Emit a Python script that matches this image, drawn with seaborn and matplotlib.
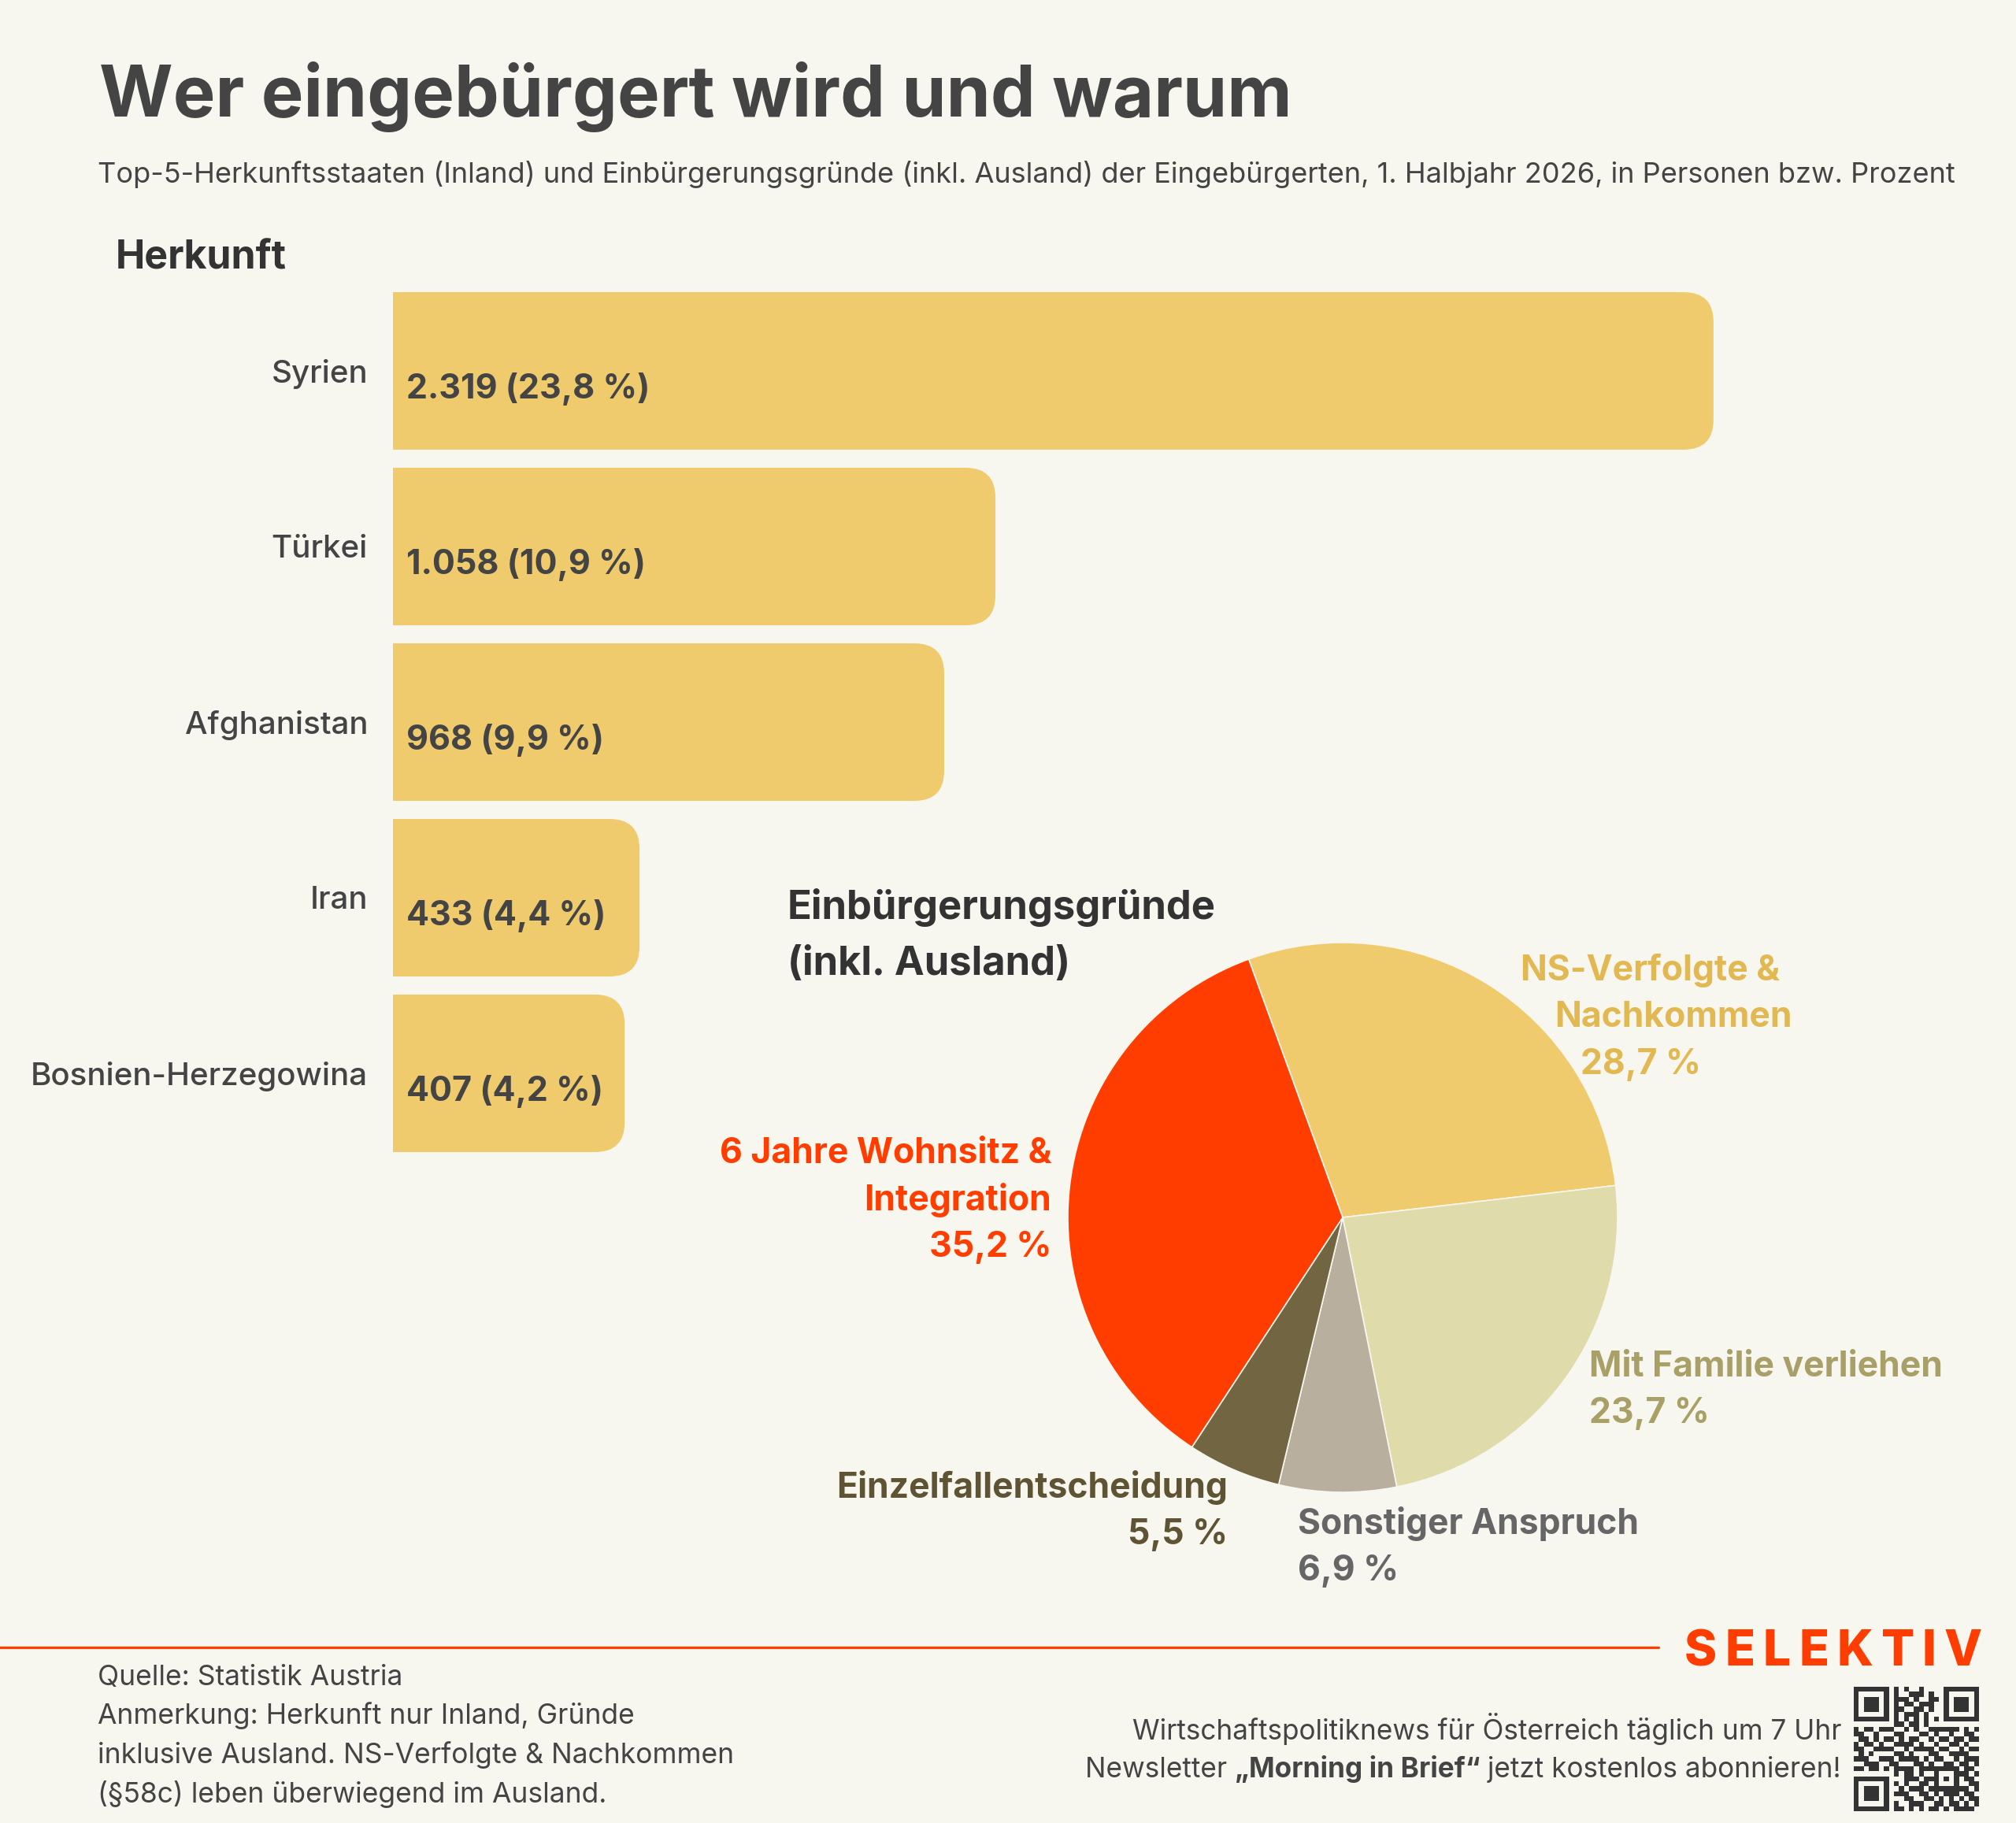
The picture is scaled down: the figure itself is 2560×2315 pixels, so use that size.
import numpy as np
import pandas as pd
import matplotlib
matplotlib.use("Agg")
import matplotlib.pyplot as plt
import matplotlib.transforms as mtrans
from matplotlib.text import OffsetFrom
import seaborn as sns
from matplotlib.patches import FancyBboxPatch
from matplotlib.lines import Line2D

W, H = 2560, 2315
BG = "#F8F7EF"
DARK = "#444444"
GOLD = "#EFCB6D"
RED = "#FF3D00"
FONT = "Inter"

# Herkunft (Inland), 1. Halbjahr 2026
countries = ["Syrien", "Türkei", "Afghanistan", "Iran", "Bosnien-Herzegowina"]
persons = [2319, 1058, 968, 433, 407]
shares = [23.8, 10.9, 9.9, 4.4, 4.2]

# Einbürgerungsgründe (inkl. Ausland), in Prozent
reasons = [["NS-Verfolgte &", "Nachkommen"], ["Mit Familie verliehen"], ["Sonstiger Anspruch"],
           ["Einzelfallentscheidung"], ["6 Jahre Wohnsitz &", "Integration"]]
reason_pct = [28.7, 23.7, 6.9, 5.5, 35.2]
reason_colors = ["#EFCB6D", "#E0DBAB", "#B8AF9E", "#726642", "#FF3D00"]
label_colors = ["#E2B853", "#A9A067", "#666666", "#5E5434", "#FF3D00"]

footnote = ["Quelle: Statistik Austria",
            "Anmerkung: Herkunft nur Inland, Gründe",
            "inklusive Ausland. NS-Verfolgte & Nachkommen",
            "(§58c) leben überwiegend im Ausland."]

# QR-Code Muster (nur Deko)
qr_rows = [
    "1111111010100100001111111",
    "1000001010011101001000001",
    "1011101011101001101011101",
    "1011101010110111001011101",
    "1011101011001101001011101",
    "1000001010111010001000001",
    "1111111010101010101111111",
    "0000000011011010000000000",
    "1011011100101001111110101",
    "1100100011000110100100110",
    "0110101101011001011011011",
    "1011010011110100100110100",
    "1100111100101111011001011",
    "0101000011010001100111100",
    "1110011101111010110010111",
    "0011100110001101001101101",
    "1101101011110111111110110",
    "0000000010110100110011101",
    "1111111000111011011010110",
    "1000001010100110111100011",
    "1011101001011101010011101",
    "1011101011100110101110110",
    "1011101000110011010101011",
    "1000001010011100110110101",
    "1111111011010101101011110",
]

sns.set_theme(style="white")
plt.rcParams["font.family"] = [FONT, "DejaVu Sans"]

fig = plt.figure(figsize=(W / 100, H / 100), dpi=100, facecolor=BG)


def fx(x):
    return x / W


def fy(y):
    return 1 - y / H


def ftext(x, y, s, **kw):
    kw.setdefault("va", "baseline")
    return fig.text(fx(x), fy(y), s, **kw)


def after(prev, s, anchor, dx=0, **kw):
    # Text direkt neben einem anderen Text ansetzen
    tr = mtrans.offset_copy(OffsetFrom(prev, anchor)(fig.canvas.get_renderer()),
                            fig=fig, x=dx, y=0, units="points")
    return fig.text(0, 0, s, transform=tr, va="bottom", **kw)


# Kopf
ftext(126, 148, "Wer eingebürgert wird und warum", fontsize=65, fontweight="bold", color=DARK)
ftext(124, 232, "Top-5-Herkunftsstaaten (Inland) und Einbürgerungsgründe (inkl. Ausland) der "
      "Eingebürgerten, 1. Halbjahr 2026, in Personen bzw. Prozent", fontsize=26, color=DARK)
ftext(147, 342, "Herkunft", fontsize=36, fontweight="bold", color="#333333")

# Balken
ax_w, ax_h = 1700, 1115
ax = fig.add_axes([fx(499), fy(359.5 + ax_h), ax_w / W, ax_h / H])
ax.set_facecolor("none")
df = pd.DataFrame({"land": countries, "personen": persons})
sns.barplot(data=df, x="personen", y="land", color=GOLD, width=0.897, saturation=1, ax=ax)
xmax = ax_w / 0.7231
ax.set_xlim(0, xmax)
ax.set_ylim(4.5, -0.5)

px_per_x = ax_w / xmax
px_per_y = ax_h / 5
r = 38 / px_per_x
asp = px_per_x / px_per_y
for p, n, s in zip(list(ax.patches), persons, shares):
    x0, y0, w, h = p.get_x(), p.get_y(), p.get_width(), p.get_height()
    p.set_visible(False)
    ax.add_patch(FancyBboxPatch((x0 - r, y0), w + r, h, boxstyle=f"round,pad=0,rounding_size={r}",
                                mutation_aspect=asp, fc=GOLD, ec="none"))
    num = f"{n:,}".replace(",", ".")
    pct = f"{s:.1f}".replace(".", ",")
    ax.text(17 / px_per_x, y0 + h / 2 + 35 / px_per_y, f"{num} ({pct} %)", fontsize=31,
            fontweight="bold", color=DARK, va="baseline", ha="left")

ax.set_xlabel("")
ax.set_ylabel("")
ax.set_xticks([])
ax.tick_params(axis="y", length=0, pad=23, labelsize=29, labelcolor=DARK)
for lab in ax.get_yticklabels():
    lab.set_fontweight("medium")
sns.despine(ax=ax, left=True, bottom=True)

# Kreisdiagramm
cx, cy, rad = 1705, 1546, 349
pax = fig.add_axes([fx(cx - rad), fy(cy + rad), 2 * rad / W, 2 * rad / H])
pax.pie(reason_pct, colors=reason_colors, startangle=110, counterclock=False,
        wedgeprops=dict(linewidth=1.2, edgecolor=BG))
pax.set_xlim(-1, 1)
pax.set_ylim(-1, 1)
pax.axis("off")

ftext(1000, 1167, "Einbürgerungsgründe", fontsize=36.5, fontweight="bold", color="#333333")
ftext(1000, 1238, "(inkl. Ausland)", fontsize=36.5, fontweight="bold", color="#333333")

# Beschriftungen: (x je Zeile, erste Grundlinie, Ausrichtung)
label_pos = [([1931, 1974, 2007], 1245, "left"),
             ([2018, 2018], 1748, "left"),
             ([1648, 1648], 1948, "left"),
             ([1559, 1559], 1902, "right"),
             ([1335, 1335, 1335], 1477, "right")]
for lines, pct, col, (xs, y0, ha) in zip(reasons, reason_pct, label_colors, label_pos):
    allines = lines + [f"{pct:.1f}".replace(".", ",") + " %"]
    for i, (ln, x) in enumerate(zip(allines, xs)):
        ftext(x, y0 + i * 59.5, ln, fontsize=32, fontweight="bold", color=col, ha=ha)

# Fuss
fig.add_artist(Line2D([0, fx(2106)], [fy(2092), fy(2092)], color=RED, lw=2.3))
prev = ftext(2139, 2115, "S", fontsize=45, fontweight="heavy", color=RED)
for ch in "ELEKTIV":
    prev = after(prev, ch, (1, 0), dx=7.3, fontsize=45, fontweight="heavy", color=RED, ha="left")

for i, ln in enumerate(footnote):
    ftext(124, 2140 + i * 49.5, ln, fontsize=25.5, color=DARK)

ftext(2338, 2209, "Wirtschaftspolitiknews für Österreich täglich um 7 Uhr", fontsize=25.3,
      color=DARK, ha="right")
prev = ftext(2338, 2257, " jetzt kostenlos abonnieren!", fontsize=25.3, color=DARK, ha="right")
prev = after(prev, "„Morning in Brief“", (0, 0), fontsize=25.3, color=DARK, ha="right",
             fontweight="bold")
after(prev, "Newsletter ", (0, 0), fontsize=25.3, color=DARK, ha="right")

# QR
qr = np.array([[int(c) for c in row] for row in qr_rows])
for r0, c0 in [(0, 0), (0, 18), (18, 0)]:
    qr[r0:r0 + 7, c0:c0 + 7] = 1
    qr[r0 + 1:r0 + 6, c0 + 1:c0 + 6] = 0
    qr[r0 + 2:r0 + 5, c0 + 2:c0 + 5] = 1
qr[16:21, 16:21] = 1
qr[17:20, 17:20] = 0
qr[18, 18] = 1
qax = fig.add_axes([fx(2354), fy(2142 + 158), 159 / W, 158 / H])
qax.imshow(qr, cmap=matplotlib.colors.ListedColormap([BG, "#333333"]), interpolation="nearest",
           aspect="auto")
qax.axis("off")

fig.savefig("out.png", dpi=100, facecolor=BG)
